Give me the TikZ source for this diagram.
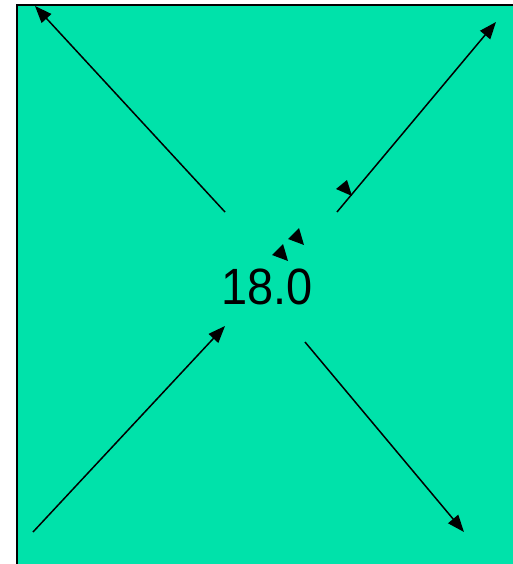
\documentclass[tikz,border=0pt]{standalone}
\usepackage{fontspec}
\setmainfont{Liberation Sans}
\usetikzlibrary{arrows.meta}
\definecolor{bg}{RGB}{0,226,170}
\begin{document}
\begin{tikzpicture}[x=1pt,y=-1pt,
  conn/.style={line width=1.5pt,-{Triangle[length=17pt,width=13pt]}},
  head/.style={fill=black,draw=none}]
\useasboundingbox (0,0) rectangle (512,564);
\fill[white] (0,0) rectangle (512,564);
\filldraw[fill=bg,draw=black,line width=2pt] (17,5) rectangle (514,566);
\node[font=\fontsize{51}{51}\selectfont,xscale=0.92] (lbl) at (267,287) {18.0};
\coordinate (a1) at (225,212); \coordinate (a2) at (35,6);
\coordinate (b1) at (337,212); \coordinate (b2) at (496,22);
\coordinate (c1) at (33,532); \coordinate (c2) at (225,326);
\coordinate (d1) at (305,342); \coordinate (d2) at (464,532);
\draw[conn] (a1) -- (a2);
\draw[conn] (b1) -- (b2);
\draw[conn] (c1) -- (c2);
\draw[conn] (d1) -- (d2);
\fill[head] (336,189) -- (347,180) -- (352,196) -- cycle;
\fill[head] (288,239) -- (299,228) -- (304,245) -- cycle;
\fill[head] (272,255) -- (283,244) -- (288,261) -- cycle;
\end{tikzpicture}
\end{document}
